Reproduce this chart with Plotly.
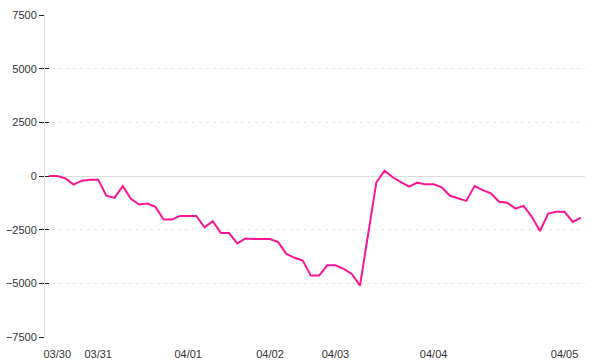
import plotly.graph_objects as go

# Series values (index = sampling step)
values = [0, 0, -110, -400, -220, -170, -170, -920, -1020, -470,
          -1060, -1330, -1280, -1440, -2030, -2030, -1860, -1860, -1860, -2390,
          -2110, -2660, -2660, -3140, -2910, -2940, -2940, -2940, -3080, -3630,
          -3810, -3940, -4640, -4640, -4160, -4160, -4330, -4560, -5110, -2800,
          -300, 250, -60, -290, -500, -310, -390, -390, -530, -920,
          -1050, -1160, -470, -660, -810, -1200, -1250, -1520, -1390, -1900,
          -2560, -1750, -1670, -1670, -2140, -1940]
steps = list(range(len(values)))

# Date tick labels and the steps where they appear
tick_labels = ["03/30", "03/31", "04/01", "04/02", "04/03", "04/04", "04/05"]
tick_steps = [1, 6, 17, 27, 35, 47, 63]

y_ticks = [-7500, -5000, -2500, 0, 2500, 5000, 7500]

font = dict(family="Liberation Sans, Arial, sans-serif", size=11, color="#333")

fig = go.Figure()
fig.add_trace(go.Scatter(x=steps, y=values, mode="lines",
                         line=dict(color="#ff1493", width=2),
                         hoverinfo="skip", showlegend=False))
fig.add_trace(go.Scatter(x=[], y=[], yaxis="y2", showlegend=False, hoverinfo="skip"))

fig.update_layout(
    width=600, height=360,
    margin=dict(l=45, r=15, t=15, b=23, pad=0),
    paper_bgcolor="white", plot_bgcolor="white",
    font=font,
    xaxis=dict(range=[-0.5, len(values) - 0.5], tickmode="array",
               tickvals=tick_steps, ticktext=tick_labels,
               showgrid=False, zeroline=False, showline=False,
               ticks="outside", ticklen=7, tickcolor="rgba(0,0,0,0)",
               automargin=False, tickfont=font),
    yaxis=dict(range=[-7500, 7500], tickmode="array", tickvals=y_ticks,
               showgrid=True, gridcolor="#e6e6e6", griddash="3px,4px", gridwidth=1,
               zeroline=True, zerolinecolor="#dcdcdc", zerolinewidth=1,
               showline=True, linecolor="#dcdcdc", linewidth=1,
               ticks="outside", ticklen=5, tickcolor="#222", tickwidth=1,
               automargin=False, tickfont=font),
    yaxis2=dict(range=[-7500, 7500], overlaying="y", side="left",
                tickmode="array", tickvals=y_ticks, showticklabels=False,
                showgrid=False, zeroline=False, showline=False,
                ticks="inside", ticklen=4, tickcolor="#222", tickwidth=1,
                automargin=False),
)

fig.write_html("out.html")
